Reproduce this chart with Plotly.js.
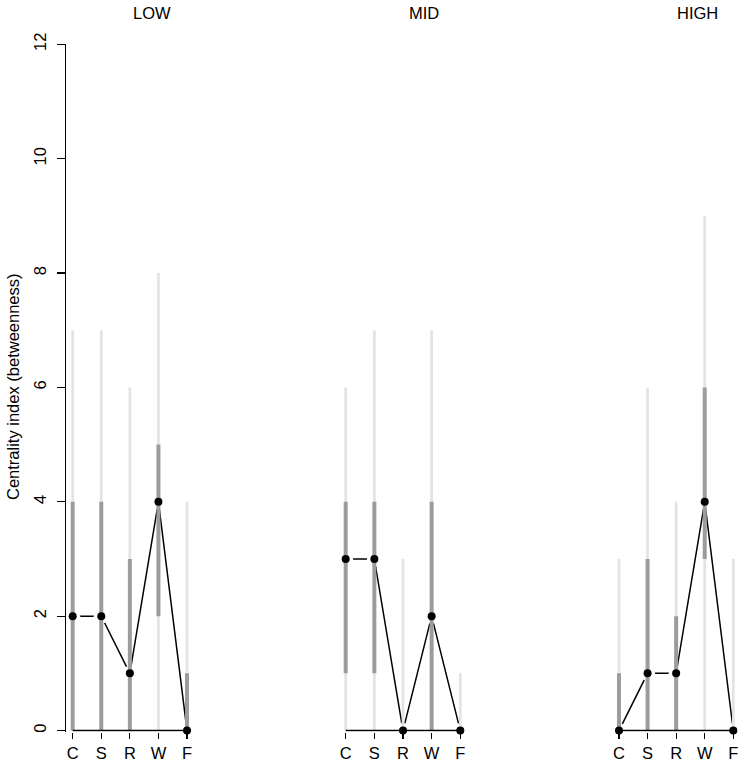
<!DOCTYPE html>
<html>
<head>
<meta charset="utf-8">
<script src="https://cdn.plot.ly/plotly-3.0.1.min.js"></script>
<style>html,body{margin:0;padding:0;background:#fff;}#chart{width:741px;height:763px;}</style>
</head>
<body>
<div id="chart"></div>
<script>
// ---- data ----
const categories = ['C', 'S', 'R', 'W', 'F'];
const panelNames = ['LOW', 'MID', 'HIGH'];

const lowMedian   = [2, 2, 1, 4, 0];
const lowInnerLo  = [0, 0, 0, 2, 0];
const lowInnerHi  = [4, 4, 3, 5, 1];
const lowOuterLo  = [0, 0, 0, 0, 0];
const lowOuterHi  = [7, 7, 6, 8, 4];

const midMedian   = [3, 3, 0, 2, 0];
const midInnerLo  = [1, 1, 0, 0, 0];
const midInnerHi  = [4, 4, 0, 4, 0];
const midOuterLo  = [0, 0, 0, 0, 0];
const midOuterHi  = [6, 7, 3, 7, 1];

const highMedian  = [0, 1, 1, 4, 0];
const highInnerLo = [0, 0, 0, 3, 0];
const highInnerHi = [1, 3, 2, 6, 0];
const highOuterLo = [0, 0, 0, 0, 0];
const highOuterHi = [3, 6, 4, 9, 3];

const yTicks = [0, 2, 4, 6, 8, 10, 12];

// ---- build ----
const panels = [
  {median: lowMedian,  innerLo: lowInnerLo,  innerHi: lowInnerHi,  outerLo: lowOuterLo,  outerHi: lowOuterHi},
  {median: midMedian,  innerLo: midInnerLo,  innerHi: midInnerHi,  outerLo: midOuterLo,  outerHi: midOuterHi},
  {median: highMedian, innerLo: highInnerLo, innerHi: highInnerHi, outerLo: highOuterLo, outerHi: highOuterHi}
];

function segs(lo, hi) {
  const xs = [], ys = [];
  categories.forEach((c, i) => {
    if (hi[i] > lo[i]) { xs.push(c, c, null); ys.push(lo[i], hi[i], null); }
  });
  return {x: xs, y: ys};
}

const FONT = '"Liberation Sans", Arial, Helvetica, sans-serif';
const traces = [];
panels.forEach((p, k) => {
  const xa = k === 0 ? 'x' : 'x' + (k + 1);
  const common = {xaxis: xa, yaxis: 'y', cliponaxis: false, hoverinfo: 'skip', showlegend: false};
  // connecting line (R type "b": gaps round the points)
  traces.push(Object.assign({x: categories, y: p.median, mode: 'lines',
    line: {color: '#000', width: 1.5}}, common));
  // white discs that open the gaps
  traces.push(Object.assign({x: categories, y: p.median, mode: 'markers',
    marker: {color: '#fff', size: 15, line: {width: 0}}}, common));
  const o = segs(p.outerLo, p.outerHi);
  traces.push(Object.assign({x: o.x, y: o.y, mode: 'lines',
    line: {color: '#e3e3e3', width: 2.7}}, common));
  const n = segs(p.innerLo, p.innerHi);
  traces.push(Object.assign({x: n.x, y: n.y, mode: 'lines',
    line: {color: '#9c9c9c', width: 4}}, common));
  // baseline from first to last category
  traces.push(Object.assign({x: [categories[0], categories[categories.length - 1]], y: [0, 0],
    mode: 'lines', line: {color: '#000', width: 1.4}}, common));
  traces.push(Object.assign({x: categories, y: p.median, mode: 'markers',
    marker: {color: '#000', size: 8, line: {width: 0}}}, common));
});

const xDomains = [[66.4 / 741, 193.3 / 741], [339.4 / 741, 466.6 / 741], [612.7 / 741, 739.6 / 741]];
function xAxis(k) {
  return {
    domain: xDomains[k], anchor: 'y', type: 'category', categoryorder: 'array', categoryarray: categories,
    range: [-0.22, 4.22], showline: false, showgrid: false, zeroline: false,
    ticks: 'outside', ticklen: 6, tickwidth: 1.2, tickcolor: '#000',
    tickfont: {family: FONT, size: 16.5, color: '#000'}, fixedrange: true
  };
}

const titleX = [152, 424, 697];
const annotations = panelNames.map((t, k) => ({
  text: t, xref: 'paper', yref: 'paper', x: titleX[k] / 741, y: (763 - 13) / 763,
  xanchor: 'center', yanchor: 'middle', showarrow: false, font: {family: FONT, size: 16.5, color: '#000'}
}));
annotations.push({
  text: 'Centrality index (betweenness)', xref: 'paper', yref: 'paper', x: 13 / 741, y: (763 - 387) / 763,
  xanchor: 'center', yanchor: 'middle', textangle: -90, showarrow: false,
  font: {family: FONT, size: 16.5, color: '#000'}
});

const layout = {
  width: 741, height: 763, margin: {l: 0, r: 0, t: 0, b: 0},
  paper_bgcolor: '#fff', plot_bgcolor: 'rgba(0,0,0,0)',
  xaxis: xAxis(0), xaxis2: xAxis(1), xaxis3: xAxis(2),
  yaxis: {
    domain: [(763 - 731.7) / 763, (763 - 44.3) / 763], anchor: 'x', range: [-0.02, 12],
    tickvals: yTicks, ticktext: yTicks.map(String), tickangle: -90, ticklabelstandoff: 5,
    showline: true, linecolor: '#000', linewidth: 1.3, mirror: false,
    ticks: 'outside', ticklen: 8, tickwidth: 1.2, tickcolor: '#000',
    showgrid: false, zeroline: false, tickfont: {family: FONT, size: 16.5, color: '#000'}, fixedrange: true
  },
  annotations: annotations,
  showlegend: false
};

Plotly.newPlot('chart', traces, layout, {staticPlot: true});
</script>
</body>
</html>
